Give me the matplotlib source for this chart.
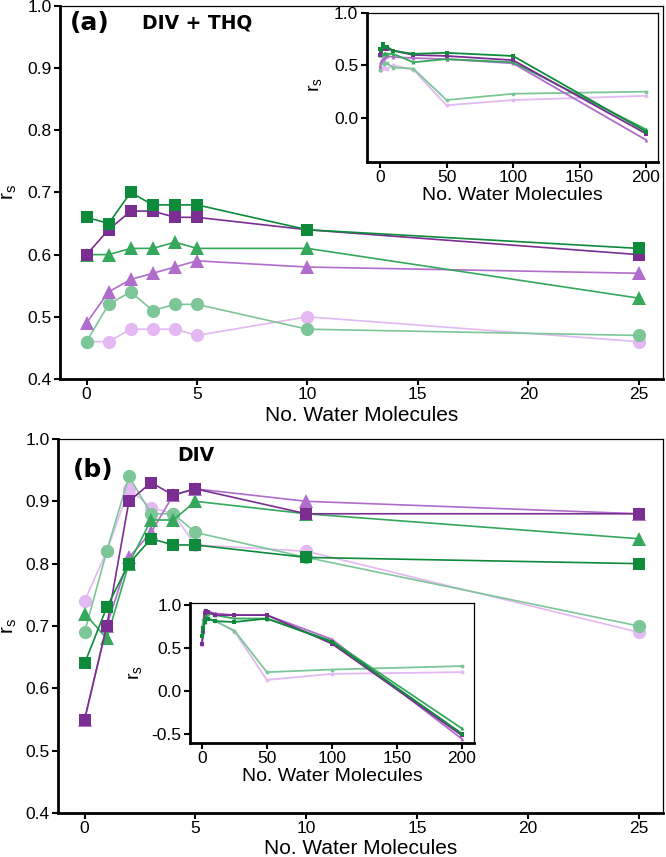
"""Spearman r_s against number of explicit water molecules, DIV + THQ and DIV."""
import matplotlib
matplotlib.use("Agg")
import matplotlib.pyplot as plt

plt.rcParams["font.family"] = ["Liberation Sans", "DejaVu Sans"]
plt.rcParams["mathtext.default"] = "regular"
plt.rcParams["axes.unicode_minus"] = False

x_main = [0, 1, 2, 3, 4, 5, 10, 25]
x_tail = [50, 100, 200]

# panel (a): DIV + THQ
a_sq_dark_green = [0.66, 0.65, 0.70, 0.68, 0.68, 0.68, 0.64, 0.61]
a_sq_dark_purple = [0.60, 0.64, 0.67, 0.67, 0.66, 0.66, 0.64, 0.60]
a_tri_green = [0.60, 0.60, 0.61, 0.61, 0.62, 0.61, 0.61, 0.53]
a_tri_purple = [0.49, 0.54, 0.56, 0.57, 0.58, 0.59, 0.58, 0.57]
a_ci_green = [0.46, 0.52, 0.54, 0.51, 0.52, 0.52, 0.48, 0.47]
a_ci_purple = [0.46, 0.46, 0.48, 0.48, 0.48, 0.47, 0.50, 0.46]
a_tail = {
    "sq_dark_green": [0.62, 0.59, -0.13],
    "sq_dark_purple": [0.59, 0.55, -0.15],
    "tri_green": [0.56, 0.53, -0.11],
    "tri_purple": [0.56, 0.52, -0.21],
    "ci_green": [0.17, 0.23, 0.25],
    "ci_purple": [0.12, 0.17, 0.21],
}

# panel (b): DIV
b_sq_dark_green = [0.64, 0.73, 0.80, 0.84, 0.83, 0.83, 0.81, 0.80]
b_sq_dark_purple = [0.55, 0.70, 0.90, 0.93, 0.91, 0.92, 0.88, 0.88]
b_tri_green = [0.72, 0.68, 0.80, 0.87, 0.87, 0.90, 0.88, 0.84]
b_tri_purple = [0.55, 0.70, 0.81, 0.85, 0.91, 0.92, 0.90, 0.88]
b_ci_green = [0.69, 0.82, 0.94, 0.88, 0.88, 0.85, 0.81, 0.70]
b_ci_purple = [0.74, 0.82, 0.92, 0.89, 0.88, 0.83, 0.82, 0.69]
b_tail = {
    "sq_dark_green": [0.84, 0.57, -0.49],
    "sq_dark_purple": [0.88, 0.55, -0.51],
    "tri_green": [0.84, 0.58, -0.43],
    "tri_purple": [0.88, 0.60, -0.55],
    "ci_green": [0.22, 0.25, 0.29],
    "ci_purple": [0.13, 0.20, 0.22],
}

# drawing order: light circles first, dark squares on top
styles = [
    ("ci_purple", "#e4b8f2", "o", 9.5),
    ("ci_green", "#7cc698", "o", 9.5),
    ("tri_purple", "#b06dcb", "^", 10.5),
    ("tri_green", "#35a85c", "^", 10.5),
    ("sq_dark_purple", "#7a2e91", "s", 8.5),
    ("sq_dark_green", "#0e8a3b", "s", 8.5),
]


def style_axes(ax, tick_size):
    ax.spines["left"].set_linewidth(2.0)
    ax.spines["bottom"].set_linewidth(2.0)
    ax.spines["top"].set_linewidth(0.9)
    ax.spines["right"].set_linewidth(0.9)
    ax.tick_params(direction="out", length=4, width=1.5, labelsize=tick_size, pad=2)


def draw_panel(ax, inset, series, tail):
    for key, color, marker, ms in styles:
        ax.plot(x_main, series[key], color=color, marker=marker, markersize=ms,
                markeredgewidth=0, linewidth=1.2)
        inset.plot(x_main + x_tail, series[key] + tail[key], color=color, marker=marker,
                   markersize=2.8, markeredgewidth=0, linewidth=1.3)
    ax.set_xlim(-1.2, 26.1)
    ax.set_ylim(0.4, 1.0)
    ax.set_xticks([0, 5, 10, 15, 20, 25])
    ax.set_yticks([0.4, 0.5, 0.6, 0.7, 0.8, 0.9, 1.0])
    ax.set_yticklabels([f"{v:.1f}" for v in ax.get_yticks()])
    style_axes(ax, 12.5)
    ax.set_xlabel("No. Water Molecules", fontsize=15, va="top")
    ax.set_ylabel("$r_s$", fontsize=15)
    inset.set_xticks([0, 50, 100, 150, 200])
    style_axes(inset, 12.5)
    inset.set_xlabel("No. Water Molecules", fontsize=14, va="top")
    inset.set_ylabel("$r_s$", fontsize=14)


fig = plt.figure(figsize=(6.66, 8.57), dpi=100)
ax_a = fig.add_axes([0.0901, 0.5578, 0.9054, 0.4353])
in_a = fig.add_axes([0.5506, 0.8110, 0.4374, 0.1739])
ax_b = fig.add_axes([0.0871, 0.0513, 0.9084, 0.4365])
in_b = fig.add_axes([0.2853, 0.1330, 0.4264, 0.1634])

series_a = {"sq_dark_green": a_sq_dark_green, "sq_dark_purple": a_sq_dark_purple,
            "tri_green": a_tri_green, "tri_purple": a_tri_purple,
            "ci_green": a_ci_green, "ci_purple": a_ci_purple}
series_b = {"sq_dark_green": b_sq_dark_green, "sq_dark_purple": b_sq_dark_purple,
            "tri_green": b_tri_green, "tri_purple": b_tri_purple,
            "ci_green": b_ci_green, "ci_purple": b_ci_purple}

draw_panel(ax_a, in_a, series_a, a_tail)
draw_panel(ax_b, in_b, series_b, b_tail)

in_a.set_xlim(-10, 209)
in_a.set_ylim(-0.42, 1.0)
in_a.set_yticks([0.0, 0.5, 1.0])
in_a.set_yticklabels(["0.0", "0.5", "1.0"])
in_b.set_xlim(-9.2, 209.5)
in_b.set_ylim(-0.60, 1.02)
in_b.set_yticks([-0.5, 0.0, 0.5, 1.0])
in_b.set_yticklabels(["-0.5", "0.0", "0.5", "1.0"])

ax_a.xaxis.set_label_coords(0.5, -0.072)
ax_a.yaxis.set_label_coords(-0.068, 0.5)
ax_b.xaxis.set_label_coords(0.5, -0.070)
ax_b.yaxis.set_label_coords(-0.064, 0.5)
in_a.xaxis.set_label_coords(0.5, -0.17)
in_a.yaxis.set_label_coords(-0.147, 0.52)
in_b.xaxis.set_label_coords(0.5, -0.18)
in_b.yaxis.set_label_coords(-0.162, 0.5)

bold = dict(family="DejaVu Sans", fontweight="bold", va="center", ha="left")
ax_a.text(0.016, 0.954, "(a)", transform=ax_a.transAxes, fontsize=18, **bold)
ax_a.text(0.136, 0.954, "DIV + THQ", transform=ax_a.transAxes, fontsize=13.5, **bold)
ax_b.text(0.024, 0.917, "(b)", transform=ax_b.transAxes, fontsize=18, **bold)
ax_b.text(0.197, 0.955, "DIV", transform=ax_b.transAxes, fontsize=13.5, **bold)

fig.savefig("out.png", dpi=100)
